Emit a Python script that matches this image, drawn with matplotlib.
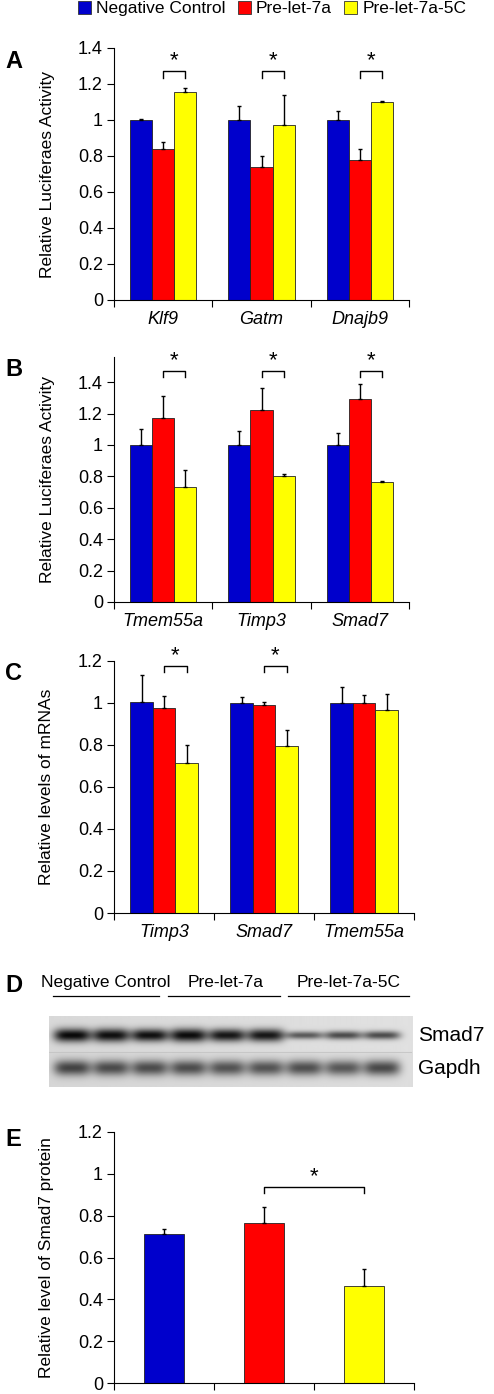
import numpy as np
import matplotlib
matplotlib.use("Agg")
import matplotlib.pyplot as plt
from matplotlib.patches import Patch
from matplotlib.ticker import FormatStrFormatter

plt.rcParams['font.family'] = ['Liberation Sans', 'DejaVu Sans']
plt.rcParams['font.size'] = 12.5

groups_names = ["Negative Control", "Pre-let-7a", "Pre-let-7a-5C"]
colors = ["#0000cc", "#ff0000", "#ffff00"]

# panel A
genes_a = ["Klf9", "Gatm", "Dnajb9"]
mean_a = [[1.0, 1.0, 1.0], [0.84, 0.74, 0.78], [1.155, 0.975, 1.10]]
err_a = [[0.005, 0.08, 0.05], [0.04, 0.06, 0.06], [0.025, 0.165, 0.005]]

# panel B
genes_b = ["Tmem55a", "Timp3", "Smad7"]
mean_b = [[1.0, 1.0, 1.0], [1.17, 1.22, 1.29], [0.735, 0.80, 0.765]]
err_b = [[0.10, 0.09, 0.075], [0.14, 0.145, 0.10], [0.105, 0.015, 0.005]]

# panel C
genes_c = ["Timp3", "Smad7", "Tmem55a"]
mean_c = [[1.005, 1.0, 1.0], [0.975, 0.99, 1.0], [0.715, 0.795, 0.965]]
err_c = [[0.13, 0.03, 0.075], [0.06, 0.015, 0.04], [0.085, 0.075, 0.08]]

# panel D blot band darkness per lane
smad7_dark = [0.82, 0.80, 0.80, 0.82, 0.78, 0.78, 0.52, 0.58, 0.58]
smad7_thick = [0.19, 0.19, 0.18, 0.19, 0.18, 0.18, 0.11, 0.12, 0.12]
gapdh_dark = [0.58, 0.55, 0.55, 0.55, 0.53, 0.53, 0.55, 0.52, 0.58]

# panel E
mean_e = [0.71, 0.765, 0.465]
err_e = [0.025, 0.075, 0.08]

W, H = 494, 1394
fig = plt.figure(figsize=(W / 100, H / 100), dpi=100)


def rect(x0, y0, x1, y1):
    return [x0 / W, 1 - y1 / H, (x1 - x0) / W, (y1 - y0) / H]


def style_axis(ax, ymax, step, ylabel, ngroups=3):
    ax.spines['top'].set_visible(False)
    ax.spines['right'].set_visible(False)
    ax.set_xlim(0, ngroups)
    ax.set_ylim(0, ymax)
    ax.set_yticks(np.arange(0, 1.4001 if ymax > 1.3 else 1.2001, step))
    ax.yaxis.set_major_formatter(FormatStrFormatter('%g'))
    ax.tick_params(axis='y', direction='out', length=5, width=0.8, pad=3, labelsize=13)
    ax.set_xticks(np.arange(ngroups + 1))
    ax.set_xticklabels([])
    ax.tick_params(axis='x', which='major', direction='out', length=5, width=0.8)
    ax.set_ylabel(ylabel)
    ax.yaxis.set_label_coords(-0.2, 0.5)


def grouped(ax, genes, means, errs, brackets, by, star_pad):
    x = np.arange(len(genes)) + 0.5
    w = 0.225
    for i in range(3):
        ax.bar(x + (i - 1) * w, means[i], w, color=colors[i], edgecolor='#222222',
               linewidth=0.6, yerr=[np.zeros(3), errs[i]], capsize=1.5,
               error_kw=dict(elinewidth=1, capthick=1, ecolor='black'), zorder=2)
    ax.set_xticks(x, minor=True)
    ax.set_xticklabels(genes, minor=True, style='italic')
    ax.tick_params(axis='x', which='minor', length=0, pad=8, labelsize=13)
    for g, (i0, i1) in brackets:
        xa = x[g] + (i0 - 1) * w
        xb = x[g] + (i1 - 1) * w
        ax.plot([xa, xa, xb, xb], [by - star_pad, by, by, by - star_pad],
                color='black', lw=1, clip_on=False)
        ax.text((xa + xb) / 2, by, '*', ha='center', va='bottom', fontsize=16)


# panel A
axA = fig.add_axes(rect(114, 48, 409, 300))
style_axis(axA, 1.4, 0.2, "Relative Luciferaes Activity")
grouped(axA, genes_a, mean_a, err_a, [(0, (1, 2)), (1, (1, 2)), (2, (1, 2))], 1.27, 0.035)

# panel B
axB = fig.add_axes(rect(114, 357, 409, 602))
style_axis(axB, 1.56, 0.2, "Relative Luciferaes Activity")
grouped(axB, genes_b, mean_b, err_b, [(0, (1, 2)), (1, (1, 2)), (2, (1, 2))], 1.47, 0.04)

# panel C
axC = fig.add_axes(rect(114, 661, 414, 913))
style_axis(axC, 1.2, 0.2, "Relative levels of mRNAs")
grouped(axC, genes_c, mean_c, err_c, [(0, (1, 2)), (1, (1, 2))], 1.176, 0.03)

# panel D blot
axD = fig.add_axes(rect(49, 1016, 412, 1087))
x0, x1, y0, y1 = -0.6, 8.8, 0.0, 2.0
xs = np.linspace(x0, x1, 726)
ys = np.linspace(y1, y0, 142)
XX, YY = np.meshgrid(xs, ys)
img = np.where(YY > 1.0, 0.85, 0.84) + 0.03 * (XX - x0) / (x1 - x0)
for i in range(9):
    prof = np.exp(-((XX - i) / 0.48) ** 4)
    img -= smad7_dark[i] * prof * np.exp(-((YY - 1.46) / smad7_thick[i]) ** 2)
    img -= gapdh_dark[i] * prof * np.exp(-((YY - 0.535) / 0.22) ** 2)
axD.imshow(np.clip(img, 0, 1), cmap='gray', vmin=0, vmax=1, extent=[x0, x1, y0, y1],
           aspect='auto', interpolation='bilinear')
axD.set_xlim(x0, x1)
axD.set_ylim(y0, y1)
axD.axis('off')
axD.axhline(1.0, color='#c4c4c4', lw=0.6)
axD.text(8.95, 1.46, "Smad7", va='center', ha='left', fontsize=15, clip_on=False)
axD.text(8.95, 0.535, "Gapdh", va='center', ha='left', fontsize=15, clip_on=False)
label_x = [0.88, 3.97, 7.17]
line_ext = [(-0.49, 2.25), (2.48, 5.37), (5.6, 8.72)]
for name, lx, (la, lb) in zip(groups_names, label_x, line_ext):
    axD.text(lx, 2.93, name, ha='center', va='center', clip_on=False)
    axD.plot([la, lb], [2.56, 2.56], color='black', lw=0.9, clip_on=False)

# panel E
axE = fig.add_axes(rect(114, 1132, 414, 1383))
style_axis(axE, 1.2, 0.2, "Relative level of Smad7 protein")
xe = np.arange(3) + 0.5
axE.bar(xe, mean_e, 0.4, color=colors, edgecolor='#222222', linewidth=0.6,
        yerr=[np.zeros(3), err_e], capsize=1.5,
        error_kw=dict(elinewidth=1, capthick=1, ecolor='black'), zorder=2)
axE.plot([xe[1], xe[1], xe[2], xe[2]], [0.908, 0.937, 0.937, 0.908], color='black', lw=1)
axE.text((xe[1] + xe[2]) / 2, 0.937, '*', ha='center', va='bottom', fontsize=16)

# panel letters
for lab, yp in [("A", 62), ("B", 369), ("C", 673), ("D", 985), ("E", 1140)]:
    fig.text(5 / W, 1 - yp / H, lab, fontsize=17, fontweight='bold', va='center', ha='left')

# legend
handles = [Patch(facecolor=c, edgecolor='#333333', linewidth=0.6) for c in colors]
fig.legend(handles, groups_names, loc='upper left', bbox_to_anchor=(78 / W, 1 - 1 / H),
           ncol=3, frameon=False, handlelength=0.75, handleheight=0.75,
           handletextpad=0.3, columnspacing=0.7, borderpad=0, borderaxespad=0)

fig.savefig("out.png", dpi=100)
